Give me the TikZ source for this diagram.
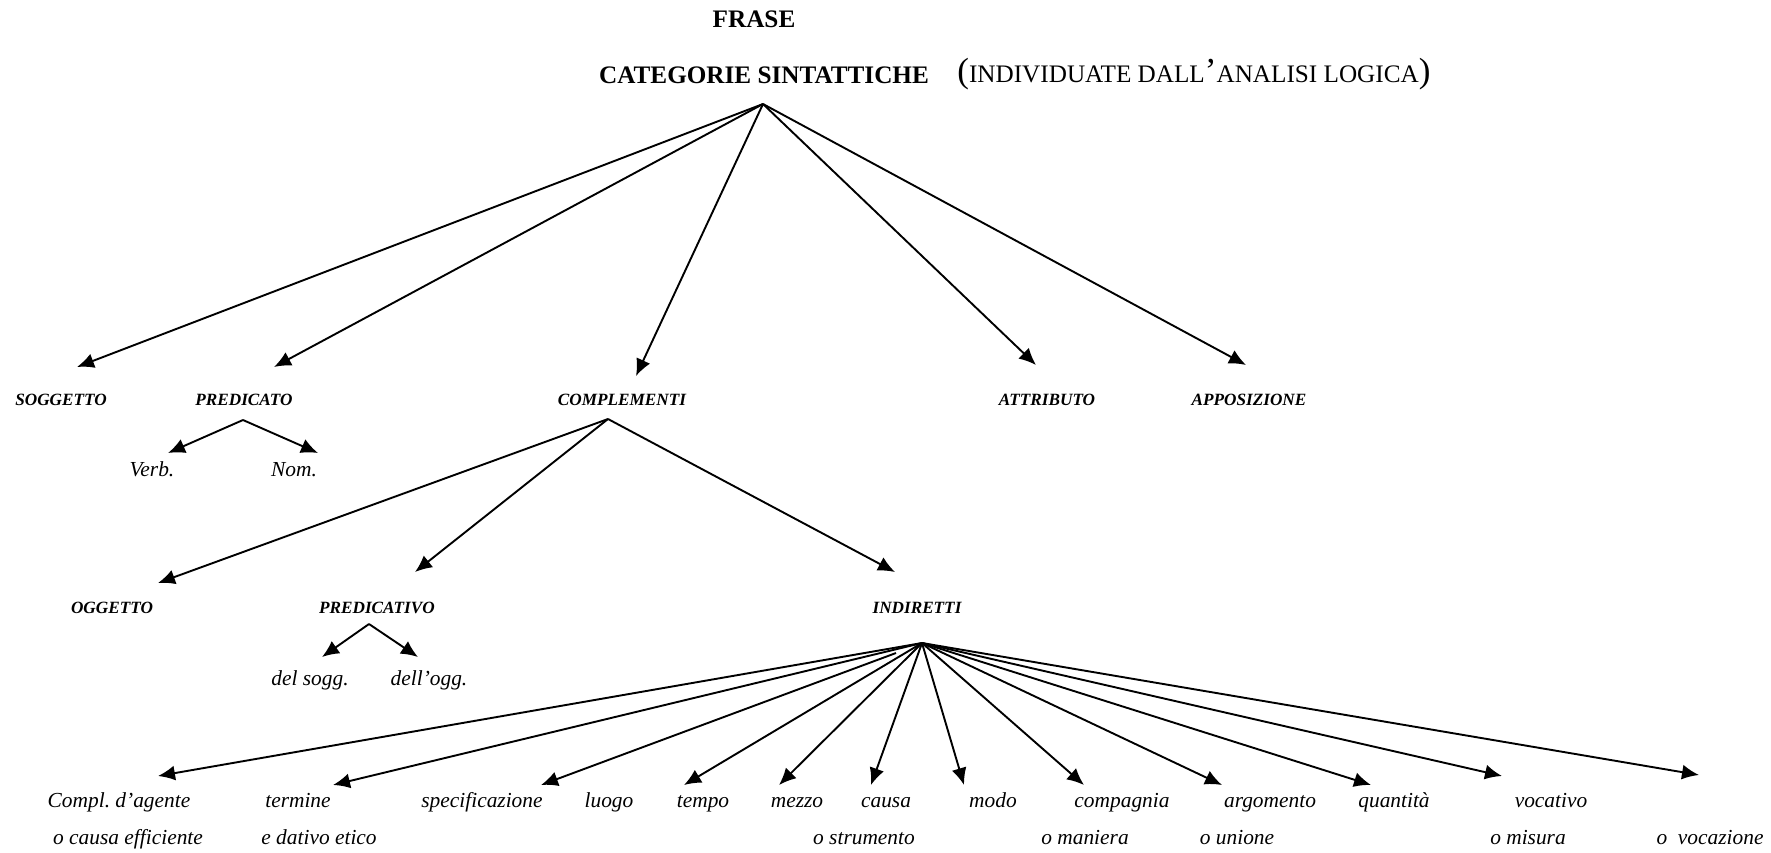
\documentclass[tikz,border=0pt]{standalone}
\usepackage{fontspec}
\setmainfont{Liberation Serif}
\usetikzlibrary{arrows.meta}
\tikzset{
  >={Latex[length=8.5pt,width=7.5pt]},
  hdr/.style={font=\bfseries\fontsize{12.6}{14}\selectfont, inner sep=0pt},
  paren/.style={font=\fontsize{12.6}{14}\selectfont, inner sep=0pt},
  cat/.style={font=\bfseries\itshape\fontsize{8.6}{10}\selectfont, inner sep=0pt, text height=6pt, text depth=0pt},
  leaf/.style={font=\itshape\fontsize{10.7}{12}\selectfont, inner sep=0pt, text height=7.5pt, text depth=2.5pt},
  link/.style={draw=black, line width=0.95pt, ->},
}
\newcommand{\bigpar}[1]{{\fontsize{17.5}{17.5}\selectfont#1}}

\begin{document}
\begin{tikzpicture}[x=0.5pt,y=-0.5pt]
\useasboundingbox (0,0) rectangle (1771,852);
% title
\node[hdr] (frase) at (754,19) {FRASE};
\node[hdr] (categ) at (764,75) {CATEGORIE SINTATTICHE};
\node[paren, anchor=west] (indiv) at (957,74) {\bigpar{(}INDIVIDUATE DALL\bigpar{’}ANALISI LOGICA\bigpar{)}};
% first level
\coordinate (top) at (763,104);
\coordinate (soggT) at (77,367); \coordinate (predT) at (274,367); \coordinate (complT) at (636,376);
\coordinate (attrT) at (1036,365); \coordinate (appT) at (1246,365);
\node[cat] (sogg) at (61,399) {SOGGETTO};
\node[cat] (pred) at (244,399) {PREDICATO};
\node[cat] (compl) at (622,399) {COMPLEMENTI};
\node[cat] (attr) at (1047,399) {ATTRIBUTO};
\node[cat] (app) at (1249,399) {APPOSIZIONE};
\draw[link] (top) -- (soggT); \draw[link] (top) -- (predT); \draw[link] (top) -- (complT);
\draw[link] (top) -- (attrT); \draw[link] (top) -- (appT);
% predicato
\coordinate (predA) at (243,420); \coordinate (verbT) at (168,453); \coordinate (nomT) at (318,453);
\draw[link] (predA) -- (verbT); \draw[link] (predA) -- (nomT);
\node[leaf] (verb) at (152,471) {Verb.};
\node[leaf] (nom) at (294,471) {Nom.};
% complementi
\coordinate (complA) at (608,419);
\coordinate (oggT) at (158,583); \coordinate (pvoT) at (415,572); \coordinate (indT) at (895,572);
\draw[link] (complA) -- (oggT); \draw[link] (complA) -- (pvoT); \draw[link] (complA) -- (indT);
\node[cat] (ogg) at (112,607) {OGGETTO};
\node[cat] (pvo) at (377,607) {PREDICATIVO};
\node[cat] (ind) at (917,607) {INDIRETTI};
% predicativo
\coordinate (pvoA) at (369,624); \coordinate (soggdT) at (322,657); \coordinate (oggdT) at (418,657);
\draw[link] (pvoA) -- (soggdT); \draw[link] (pvoA) -- (oggdT);
\node[leaf] (delsogg) at (310,680) {del sogg.};
\node[leaf] (dellogg) at (429,680) {dell’ogg.};
% indiretti
\coordinate (indA) at (922,643); \coordinate (specA) at (896,653);
\coordinate (agenteT) at (158,776); \coordinate (termineT) at (333,785); \coordinate (specT) at (541,785);
\coordinate (tempoT) at (684,785); \coordinate (mezzoT) at (779,785); \coordinate (causaT) at (871,785);
\coordinate (modoT) at (964,785); \coordinate (compT) at (1084,785); \coordinate (argT) at (1222,785);
\coordinate (quantT) at (1371,785); \coordinate (vocT) at (1502,776); \coordinate (vocazT) at (1699,775);
\draw[link] (indA) -- (agenteT); \draw[link] (indA) -- (termineT); \draw[link] (specA) -- (specT);
\draw[link] (indA) -- (tempoT); \draw[link] (indA) -- (mezzoT); \draw[link] (indA) -- (causaT);
\draw[link] (indA) -- (modoT); \draw[link] (indA) -- (compT); \draw[link] (indA) -- (argT);
\draw[link] (indA) -- (quantT); \draw[link] (indA) -- (vocT); \draw[link] (indA) -- (vocazT);
\node[leaf] (agente) at (119,802) {Compl.\ d’agente};
\node[leaf] (termine) at (298,802) {termine};
\node[leaf] (specif) at (482,802) {specificazione};
\node[leaf] (luogo) at (609,802) {luogo};
\node[leaf] (tempo) at (703,802) {tempo};
\node[leaf] (mezzo) at (797,802) {mezzo};
\node[leaf] (causa) at (886,802) {causa};
\node[leaf] (modo) at (993,802) {modo};
\node[leaf] (compagnia) at (1122,802) {compagnia};
\node[leaf] (argomento) at (1270,802) {argomento};
\node[leaf] (quantita) at (1394,802) {quantità};
\node[leaf] (vocativo) at (1551,802) {vocativo};
\node[leaf] (agenteB) at (128,839) {o causa efficiente};
\node[leaf] (termineB) at (319,839) {e dativo etico};
\node[leaf] (mezzoB) at (864,839) {o strumento};
\node[leaf] (modoB) at (1085,839) {o maniera};
\node[leaf] (compB) at (1237,839) {o unione};
\node[leaf] (quantB) at (1528,839) {o misura};
\node[leaf] (vocB) at (1710,839) {o\ \ vocazione};
\end{tikzpicture}
\end{document}
